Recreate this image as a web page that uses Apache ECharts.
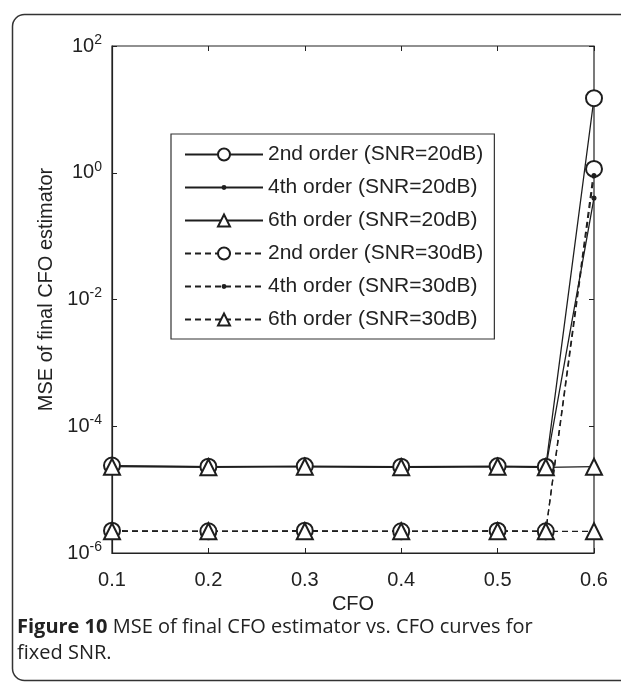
<!DOCTYPE html>
<html>
<head>
<meta charset="utf-8">
<script src="https://cdn.jsdelivr.net/npm/echarts@6/dist/echarts.min.js"></script>
<style>
  html, body { margin: 0; padding: 0; background: #fff; }
  #chart { width: 621px; height: 682px; }
</style>
</head>
<body>
<div id="chart"></div>
<script>
// CFO values (x axis)
var cfo = [0.1, 0.2, 0.3, 0.4, 0.5, 0.55, 0.6];
// MSE of final CFO estimator
var mse2nd20 = [2.4e-5, 2.3e-5, 2.35e-5, 2.3e-5, 2.35e-5, 2.3e-5, 15];
var mse4th20 = [2.35e-5, 2.3e-5, 2.3e-5, 2.25e-5, 2.3e-5, 2.25e-5, 0.4];
var mse6th20 = [2.3e-5, 2.25e-5, 2.3e-5, 2.25e-5, 2.3e-5, 2.25e-5, 2.3e-5];
var mse2nd30 = [2.25e-6, 2.2e-6, 2.25e-6, 2.2e-6, 2.25e-6, 2.2e-6, 1.15];
var mse4th30 = [2.2e-6, 2.2e-6, 2.2e-6, 2.2e-6, 2.2e-6, 2.2e-6, 0.9];
var mse6th30 = [2.2e-6, 2.2e-6, 2.2e-6, 2.2e-6, 2.2e-6, 2.2e-6, 2.2e-6];
var seriesNames = ['2nd order (SNR=20dB)', '4th order (SNR=20dB)', '6th order (SNR=20dB)',
                   '2nd order (SNR=30dB)', '4th order (SNR=30dB)', '6th order (SNR=30dB)'];
var xTicks = ['0.1', '0.2', '0.3', '0.4', '0.5', '0.6'];

var lineColor = '#1e1e1e';
var font = 'Liberation Sans, Arial, sans-serif';
// point marker: small dot padded with empty moveTo points so it stays tiny in its box
var dotSymbol = 'path://M0,0M14,14M7,5.3A1.7,1.7,0,1,1,7,8.7A1.7,1.7,0,1,1,7,5.3Z';

function pairs(ys) {
    var out = [];
    for (var i = 0; i < cfo.length; i++) out.push([cfo[i], ys[i]]);
    return out;
}

function makeSeries(name, ys, symbol, size, dashed) {
    return {
        name: name,
        type: 'line',
        data: pairs(ys),
        symbol: symbol,
        symbolSize: size,
        showAllSymbol: true,
        animation: false,
        lineStyle: { color: lineColor, width: 1.3, type: dashed ? [6, 4] : 'solid' },
        itemStyle: { color: lineColor, borderColor: lineColor, borderWidth: 1.2 },
        z: 3
    };
}

var myChart = echarts.init(document.getElementById('chart'));
myChart.setOption({
    animation: false,
    grid: {
        left: 112, top: 46, width: 482, height: 507,
        show: true, borderColor: '#222', borderWidth: 1.2
    },
    xAxis: [
        {
            type: 'value', min: 0.1, max: 0.6, interval: 0.1,
            name: 'CFO', nameLocation: 'middle', nameGap: 38,
            nameTextStyle: { fontFamily: font, fontSize: 20, color: '#222' },
            axisLine: { show: true, lineStyle: { color: '#222', width: 1.2 } },
            axisTick: { show: true, inside: true, length: 5, lineStyle: { color: '#222' } },
            axisLabel: {
                fontFamily: font, fontSize: 20, color: '#222', margin: 17,
                formatter: function (v) { return xTicks[Math.round((v - 0.1) * 10)]; }
            },
            splitLine: { show: false }
        },
        {
            type: 'value', min: 0.1, max: 0.6, interval: 0.1, position: 'top',
            axisLine: { show: false },
            axisTick: { show: true, inside: true, length: 5, lineStyle: { color: '#222' } },
            axisLabel: { show: false },
            splitLine: { show: false }
        }
    ],
    yAxis: [
        {
            type: 'log', logBase: 100, min: 1e-6, max: 1e2,
            name: 'MSE of final CFO estimator', nameLocation: 'middle', nameGap: 52,
            nameTextStyle: { fontFamily: font, fontSize: 20, color: '#222', padding: [0, 0, 0, 20] },
            axisLine: { show: true, lineStyle: { color: '#222', width: 1.2 } },
            axisTick: { show: true, inside: true, length: 5, lineStyle: { color: '#222' } },
            axisLabel: {
                margin: 10,
                formatter: function (v) {
                    var e = Math.round(Math.log(v) / Math.LN10);
                    return '{b|10}{s|' + e + '}';
                },
                rich: {
                    b: { fontFamily: font, fontSize: 20, color: '#222' },
                    s: { fontFamily: font, fontSize: 14, color: '#222', padding: [0, 0, 12, 0] }
                }
            },
            splitLine: { show: false },
            minorTick: { show: false }
        },
        {
            type: 'log', logBase: 100, min: 1e-6, max: 1e2, position: 'right',
            axisLine: { show: false },
            axisTick: { show: true, inside: true, length: 5, lineStyle: { color: '#222' } },
            axisLabel: { show: false },
            splitLine: { show: false }
        }
    ],
    legend: {
        orient: 'vertical',
        left: 171, top: 134,
        data: seriesNames,
        itemWidth: 78, itemHeight: 15, itemGap: 10,
        padding: [9, 11, 8, 13],
        borderColor: '#333', borderWidth: 1.2,
        backgroundColor: '#fff',
        textStyle: { fontFamily: font, fontSize: 21, color: '#222', lineHeight: 23 },
        selectedMode: false
    },
    graphic: [
        {
            type: 'rect',
            shape: { x: 12.5, y: 14.5, width: 800, height: 666, r: 12 },
            style: { fill: 'none', stroke: '#333', lineWidth: 1.5 },
            silent: true
        },
        {
            type: 'text',
            left: 17, top: 614,
            style: {
                text: '{b|Figure 10} MSE of final CFO estimator vs. CFO curves for\nfixed SNR.',
                fontFamily: 'Open Sans, Noto Sans, sans-serif',
                fontSize: 20, lineHeight: 26, fill: '#222',
                rich: { b: { fontFamily: 'Open Sans, Noto Sans, sans-serif', fontSize: 20, fontWeight: 'bold', fill: '#222' } }
            }
        }
    ],
    series: [
        makeSeries(seriesNames[0], mse2nd20, 'emptyCircle', 16, false),
        makeSeries(seriesNames[1], mse4th20, dotSymbol, 16, false),
        makeSeries(seriesNames[2], mse6th20, 'emptyTriangle', 16, false),
        makeSeries(seriesNames[3], mse2nd30, 'emptyCircle', 16, true),
        makeSeries(seriesNames[4], mse4th30, dotSymbol, 16, true),
        makeSeries(seriesNames[5], mse6th30, 'emptyTriangle', 16, true)
    ]
});
</script>
</body>
</html>
